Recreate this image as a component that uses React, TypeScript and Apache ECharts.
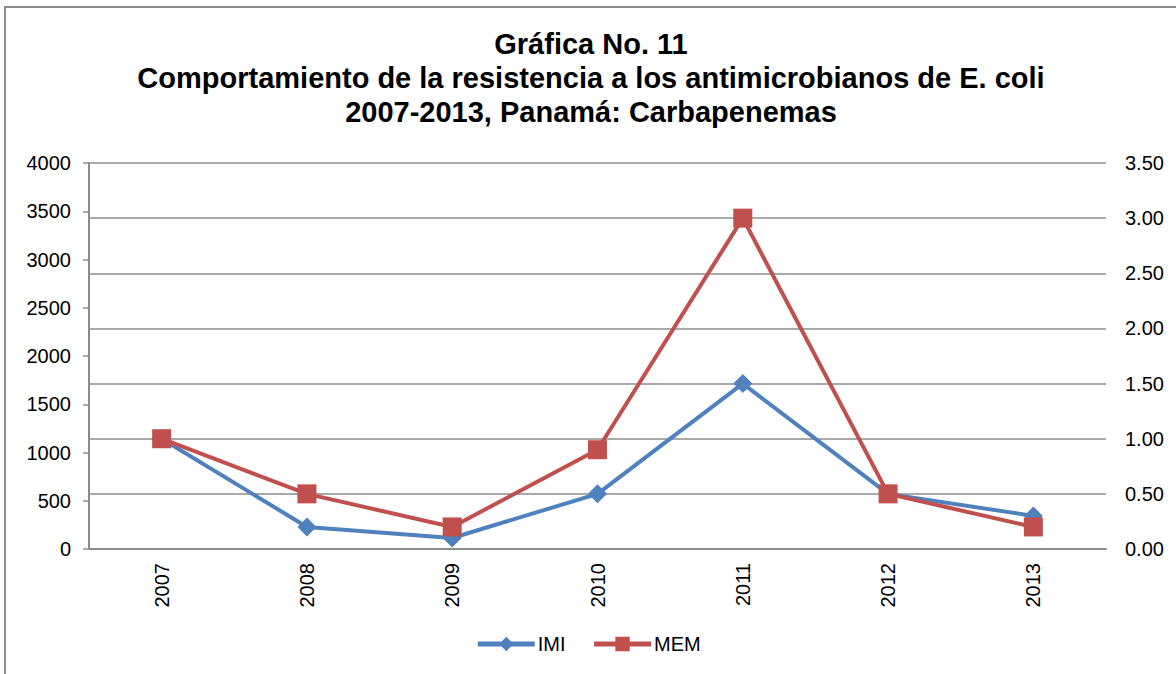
import React, { useEffect, useRef } from "react";
import * as echarts from "echarts";

const years = ["2007", "2008", "2009", "2010", "2011", "2012", "2013"];
const imi = [1.0, 0.2, 0.1, 0.5, 1.5, 0.5, 0.3];
const mem = [1.0, 0.5, 0.2, 0.9, 3.0, 0.5, 0.2];
const titleLines = [
  "Gráfica No. 11",
  "Comportamiento de la resistencia a los antimicrobianos de E. coli",
  "2007-2013, Panamá: Carbapenemas",
];

const FONT = '"Liberation Sans", Arial, sans-serif';
const GRAY = "#8c8c8c";

export default function App() {
  const ref = useRef<HTMLDivElement>(null);
  useEffect(() => {
    const chart = echarts.init(ref.current!, null, { renderer: "svg" });
    chart.setOption({
      animation: false,
      textStyle: { fontFamily: FONT },
      graphic: [
        {
          type: "rect",
          shape: { x: 5, y: 7, width: 1400, height: 900 },
          style: { fill: "none", stroke: GRAY, lineWidth: 2 },
          silent: true,
        },
        {
          type: "text",
          x: 591,
          y: 27,
          style: {
            text: titleLines.join("\n"),
            font: `bold 29px ${FONT}`,
            fill: "#000",
            textAlign: "center",
            textVerticalAlign: "top",
            lineHeight: 34,
          },
        },
      ],
      grid: { left: 89, right: 70, top: 163, bottom: 125, containLabel: false },
      legend: {
        bottom: 15,
        left: "center",
        itemWidth: 57,
        itemHeight: 18,
        itemGap: 26,
        lineStyle: { width: 5 },
        textStyle: { fontSize: 20, color: "#000", fontFamily: FONT, padding: [0, 0, 0, -2] },
        data: ["IMI", "MEM"],
      },
      xAxis: {
        type: "category",
        data: years,
        boundaryGap: true,
        axisLine: { show: true, lineStyle: { color: GRAY, width: 2 } },
        axisTick: { show: false },
        axisLabel: { rotate: 90, fontSize: 20, color: "#000", margin: 14 },
        splitLine: { show: false },
      },
      yAxis: [
        {
          type: "value",
          min: 0,
          max: 4000,
          interval: 500,
          position: "left",
          axisLine: { show: true, lineStyle: { color: GRAY, width: 2 } },
          axisTick: { show: true, length: 6, lineStyle: { color: GRAY, width: 1.5 } },
          axisLabel: {
            fontSize: 20,
            color: "#000",
            margin: 18,
            formatter: (v: number) => String(v),
          },
          splitLine: { show: false },
        },
        {
          type: "value",
          min: 0,
          max: 3.5,
          interval: 0.5,
          position: "right",
          axisLine: { show: false },
          axisTick: { show: false },
          axisLabel: {
            fontSize: 20,
            color: "#000",
            margin: 19,
            formatter: (v: number) => v.toFixed(2),
          },
          splitLine: { show: true, lineStyle: { color: GRAY, width: 1.5 } },
        },
      ],
      series: [
        {
          name: "IMI",
          type: "line",
          yAxisIndex: 1,
          data: imi,
          symbol: "diamond",
          symbolSize: 19,
          lineStyle: { color: "#4F81BD", width: 4 },
          itemStyle: { color: "#4F81BD" },
        },
        {
          name: "MEM",
          type: "line",
          yAxisIndex: 1,
          data: mem,
          symbol: "rect",
          symbolSize: 19,
          lineStyle: { color: "#C0504D", width: 4 },
          itemStyle: { color: "#C0504D" },
        },
      ],
    });
    return () => chart.dispose();
  }, []);
  return (
    <div
      ref={ref}
      style={{ position: "fixed", left: 0, top: 0, width: 1176, height: 674, background: "#fff" }}
    />
  );
}
